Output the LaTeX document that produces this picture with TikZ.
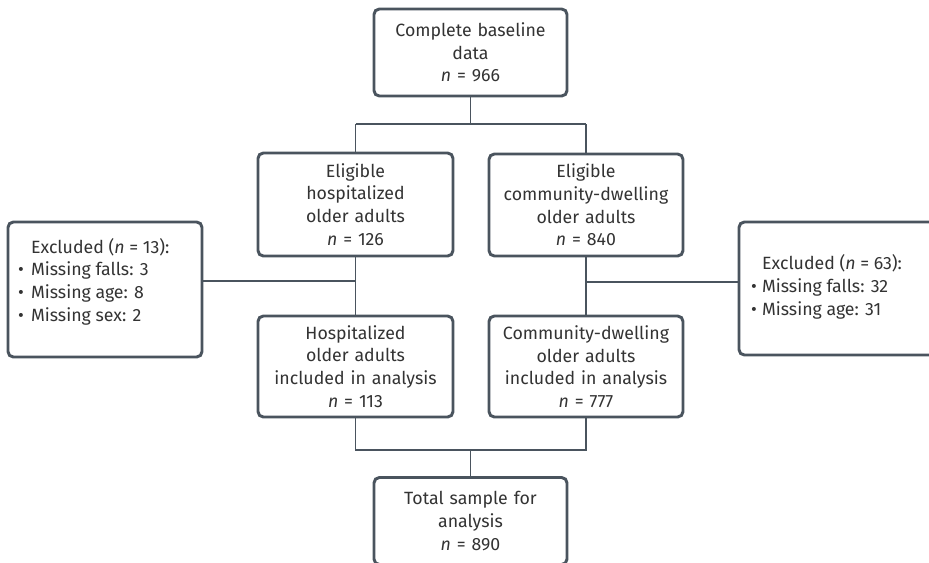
\documentclass[tikz,border=0pt]{standalone}
\usepackage{fontspec}
\setmainfont{Fira Sans}
\usepackage{array}
\begin{document}
\begin{tikzpicture}[x=0.75pt,y=-0.75pt,
  every node/.style={inner sep=0pt, outer sep=0pt, text=txtgray,
    font=\fontsize{13.3}{17}\selectfont},
  stagebox/.style={draw=linegray, line width=2.2pt, rounded corners=4pt,
    fill=white, align=center, anchor=center, text width=190*0.75pt},
  sidebox/.style={draw=linegray, line width=2.2pt, rounded corners=4pt,
    fill=white, anchor=center},
  link/.style={draw=linegray, line width=1.1pt},
  excl/.style={anchor=west, align=left}]
\definecolor{linegray}{HTML}{4A545E}
\definecolor{txtgray}{HTML}{333333}

% canvas
\path[use as bounding box] (0,0) rectangle (929,562);
\clip (0,0) rectangle (929,562);

% main stages
\node[stagebox, minimum width=193*0.75pt, minimum height=87*0.75pt] (base) at (470.5,52.5)
  {Complete baseline\\data\\\textit{n} = 966};
\node[stagebox, minimum width=195*0.75pt, minimum height=103*0.75pt] (hosp) at (355.5,204.5)
  {Eligible\\hospitalized\\older adults\\\textit{n} = 126};
\node[stagebox, minimum width=194*0.75pt, minimum height=102*0.75pt] (comm) at (586,205)
  {Eligible\\community-dwelling\\older adults\\\textit{n} = 840};
\node[stagebox, minimum width=195*0.75pt, minimum height=101*0.75pt] (hospin) at (355.5,366.5)
  {Hospitalized\\older adults\\included in analysis\\\textit{n} = 113};
\node[stagebox, minimum width=194*0.75pt, minimum height=101*0.75pt] (commin) at (586,366.5)
  {Community-dwelling\\older adults\\included in analysis\\\textit{n} = 777};
\node[stagebox, minimum width=193*0.75pt, minimum height=87*0.75pt] (total) at (470.5,521)
  {Total sample for\\analysis\\\textit{n} = 890};

% exclusion boxes
\node[sidebox, minimum width=194*0.75pt, minimum height=135*0.75pt] (exclL) at (105,289.5) {};
\node[sidebox, minimum width=196*0.75pt, minimum height=133*0.75pt] (exclR) at (837,288.5) {};
\node[excl] (exclLtxt) at (18,282.5)
  {\begin{tabular}{@{}l@{\hspace{5.5pt}}l@{}}
   & Excluded (\textit{n} = 13):\\
   \textbullet & Missing falls: 3\\
   \textbullet & Missing age: 8\\
   \textbullet & Missing sex: 2
   \end{tabular}};
\node[excl] (exclRtxt) at (751,288)
  {\begin{tabular}{@{}l@{\hspace{4pt}}l@{}}
   & Excluded (\textit{n} = 63):\\
   \textbullet & Missing falls: 32\\
   \textbullet & Missing age: 31
   \end{tabular}};

% junction points
\coordinate (split) at (470.5,124);
\coordinate (splitL) at (355.5,124);
\coordinate (splitR) at (586,124);
\coordinate (tapL) at (355.5,281);
\coordinate (tapR) at (586,282);
\coordinate (joinL) at (355.5,450);
\coordinate (joinR) at (586,450);
\coordinate (join) at (470.5,450);

% connectors
\draw[link] (base.south) -- (split);
\draw[link] (splitL) -- (splitR);
\draw[link] (splitL) -- (hosp.north);
\draw[link] (splitR) -- (comm.north);
\draw[link] (hosp.south) -- (hospin.north);
\draw[link] (comm.south) -- (commin.north);
\draw[link] (exclL.east |- tapL) -- (tapL);
\draw[link] (tapR) -- (exclR.west |- tapR);
\draw[link] (hospin.south) -- (joinL) -- (joinR) -- (commin.south);
\draw[link] (join) -- (total.north);
\end{tikzpicture}
\end{document}
